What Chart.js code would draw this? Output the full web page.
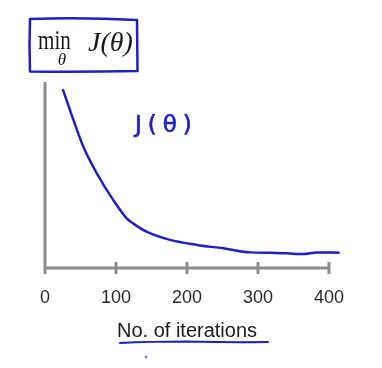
<!DOCTYPE html>
<html>
<head>
<meta charset="utf-8">
<script src="https://cdn.jsdelivr.net/npm/chart.js@4/dist/chart.umd.min.js"></script>
<style>
  html, body { margin: 0; padding: 0; background: #ffffff; }
  #wrap { position: relative; width: 382px; height: 368px; }
</style>
</head>
<body>
<div id="wrap"><canvas id="c" width="382" height="368"></canvas></div>
<script>
// Data
const iterations = [25, 40, 54, 73, 96, 115, 124, 143, 176, 214, 251, 289, 317, 340, 364, 383, 415];
const cost = [9.62, 7.96, 6.52, 5.09, 3.66, 2.67, 2.40, 1.95, 1.51, 1.24, 1.06, 0.84, 0.82, 0.79, 0.75, 0.84, 0.82];
const xTicks = [0, 100, 200, 300, 400];
const xTitle = 'No. of iterations';
const curveLabel = 'J(θ)';

const BLUE = '#1f1fc8';
const AXIS = '#8c8c8c';

const points = iterations.map((x, i) => ({ x: x, y: cost[i] }));

const decorPlugin = {
  id: 'decor',
  beforeDatasetsDraw(chart) {
    const ctx = chart.ctx;
    const xs = chart.scales.x, ys = chart.scales.y;
    const x0 = xs.getPixelForValue(xTicks[0]);
    const xN = xs.getPixelForValue(xTicks[xTicks.length - 1]);
    const yb = ys.getPixelForValue(0);
    const yt = chart.chartArea.top;
    ctx.save();
    ctx.strokeStyle = AXIS;
    ctx.lineWidth = 3;
    ctx.lineCap = 'butt';
    ctx.beginPath();
    ctx.moveTo(x0, yt);
    ctx.lineTo(x0, yb + 1.5);
    ctx.moveTo(x0, yb);
    ctx.lineTo(xN + 1.5, yb);
    xTicks.forEach(t => {
      const px = xs.getPixelForValue(t);
      if (t !== xTicks[0]) {
        ctx.moveTo(px, yb - 6);
        ctx.lineTo(px, yb + 6);
      } else {
        ctx.moveTo(px, yb);
        ctx.lineTo(px, yb + 6);
      }
    });
    ctx.stroke();
    ctx.restore();
  },
  afterDraw(chart) {
    const ctx = chart.ctx;
    ctx.save();
    // hand-drawn title box
    ctx.strokeStyle = BLUE;
    ctx.lineWidth = 2.5;
    ctx.lineJoin = 'round';
    ctx.beginPath();
    ctx.moveTo(30, 19);
    ctx.quadraticCurveTo(80, 17, 137, 20);
    ctx.lineTo(137.5, 71);
    ctx.quadraticCurveTo(85, 72, 30, 71.5);
    ctx.quadraticCurveTo(29, 45, 30, 19);
    ctx.closePath();
    ctx.stroke();

    // title text: min over theta, J(theta)
    ctx.fillStyle = '#1a1a1a';
    ctx.textBaseline = 'alphabetic';
    ctx.save();
    ctx.translate(38, 49);
    ctx.scale(0.78, 1);
    ctx.font = '27px "Liberation Serif", "DejaVu Serif", serif';
    ctx.fillText('min', 0, 0);
    ctx.restore();
    ctx.font = 'italic 17px "Liberation Serif", "DejaVu Serif", serif';
    ctx.textAlign = 'center';
    ctx.fillText('θ', 62, 65);
    ctx.textAlign = 'left';
    ctx.font = 'italic 28px "Liberation Serif", "DejaVu Serif", serif';
    ctx.fillText('J(θ)', 88, 51);

    // handwritten curve label
    ctx.fillStyle = BLUE;
    ctx.strokeStyle = BLUE;
    ctx.lineWidth = 0.7;
    ctx.font = '23px "DejaVu Sans", sans-serif';
    try { ctx.letterSpacing = '6px'; } catch (e) {}
    ctx.fillText(curveLabel, 135, 132);
    ctx.strokeText(curveLabel, 135, 132);
    try { ctx.letterSpacing = '0px'; } catch (e) {}

    // underline of axis title
    ctx.lineWidth = 2;
    ctx.lineCap = 'round';
    ctx.beginPath();
    ctx.moveTo(120, 343);
    ctx.quadraticCurveTo(150, 341.5, 185, 341.5);
    ctx.quadraticCurveTo(230, 342.5, 268, 342);
    ctx.stroke();
    ctx.fillStyle = '#6b6bb0';
    ctx.beginPath();
    ctx.arc(146, 357, 1.2, 0, Math.PI * 2);
    ctx.fill();
    ctx.restore();
  }
};

new Chart(document.getElementById('c'), {
  type: 'line',
  data: {
    datasets: [{
      data: points,
      borderColor: BLUE,
      borderWidth: 2.5,
      pointRadius: 0,
      fill: false,
      cubicInterpolationMode: 'monotone',
      clip: false
    }]
  },
  options: {
    responsive: false,
    animation: false,
    devicePixelRatio: 1,
    layout: { padding: { left: 45, right: 53, top: 82, bottom: 25 } },
    plugins: { legend: { display: false }, tooltip: { enabled: false }, title: { display: false } },
    scales: {
      x: {
        type: 'linear',
        min: 0,
        max: 400,
        grid: { display: false, drawTicks: false },
        border: { display: false },
        afterBuildTicks(scale) { scale.ticks = xTicks.map(v => ({ value: v })); },
        afterFit(scale) { scale.height = 75; },
        ticks: {
          color: '#2a2a2a',
          font: { family: '"Liberation Sans", Arial, sans-serif', size: 18 },
          padding: 19,
          maxRotation: 0
        },
        title: {
          display: true,
          text: xTitle,
          color: '#1a1a1a',
          font: { family: '"Liberation Sans", Arial, sans-serif', size: 20 },
          padding: { top: 0, bottom: 0 }
        }
      },
      y: {
        display: false,
        min: 0,
        max: 10
      }
    }
  },
  plugins: [decorPlugin]
});
</script>
</body>
</html>
